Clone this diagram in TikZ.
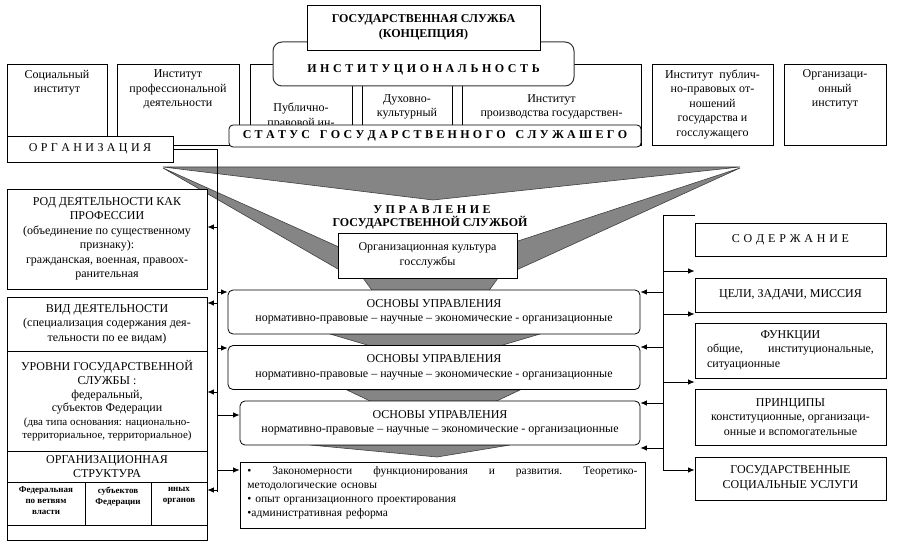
\documentclass[tikz,border=0pt]{standalone}
\usepackage{fontspec}
\setmainfont{Liberation Serif}
\usetikzlibrary{arrows.meta, positioning}
\definecolor{fgrey}{HTML}{858585}
\definecolor{fedge}{HTML}{404040}
\newcommand{\bodysize}{\fontsize{12}{14.5}\selectfont}
\newcommand{\notesize}{\fontsize{11}{13}\selectfont}
\tikzset{
  every picture/.style={line width=0.8pt},
  box/.style={draw, fill=white, inner sep=2pt, align=center, font=\bodysize},
  rbox/.style={box, rounded corners=5pt},
  txt/.style={inner sep=1pt, align=center, font=\bodysize},
  head/.style={font=\bodysize\bfseries},
  spread/.style={execute at begin node={\spaceskip=#1\relax}},
  arrow/.style={-{Latex[length=6.5pt, width=5.5pt]}, line width=0.8pt},
  funnel/.style={fill=fgrey, draw=fedge, line width=0.6pt},
}

\begin{document}
\begin{tikzpicture}[x=1pt, y=-1pt,
  cell/.style={draw, inner sep=0pt},
  tiny/.style={inner sep=1pt, align=center, font=\fontsize{9}{11}\selectfont\bfseries}]
  \useasboundingbox (0,0) rectangle (911,548);

  % institutes row
  \node[box, minimum width=100, minimum height=72] (soc) at (57,100) {};
  \node[txt, below=5pt of soc.north] (soct) {Социальный\\институт};
  \node[box, minimum width=122, minimum height=81] (prof) at (178,104.5) {};
  \node[txt, below=5pt of prof.north] (proft) {Институт\\профессиональной\\деятельности};
  \node[box, minimum width=391, minimum height=81] (pub) at (445.5,104.5) {};
  \foreach \x in {352,362,452,462} \draw (\x,86) -- (\x,126);
  \node[txt] (pubt) at (301,116) {Публично-\\правовой ин-};
  \node[txt] (duh) at (407,107) {Духовно-\\культурный};
  \node[txt] (proiz) at (551.5,107) {Институт\\производства государствен-};
  \node[rbox, draw=black!80, line width=1pt, rounded corners=9pt, minimum width=301, minimum height=44] (inst) at (423.5,64) {};
  \node[txt, head, spread=3.6pt] (instt) at (423.5,70) {И Н С Т И Т У Ц И О Н А Л Ь Н О С Т Ь};
  \node[box, head, minimum width=233, minimum height=45] (gs) at (423.5,27.5) {ГОСУДАРСТВЕННАЯ СЛУЖБА\\(КОНЦЕПЦИЯ)};
  \node[rbox, head, spread=3.3pt, rounded corners=4pt, minimum width=412, minimum height=22] (stat) at (435,136)
    {С Т А Т У С \ \ Г О С У Д А Р С Т В Е Н Н О Г О \ \ С Л У Ж А Ш Е Г О};
  \node[box, spread=3.4pt, minimum width=166, minimum height=26] (org) at (90,149) {О Р Г А Н И З А Ц И Я};
  \node[box, minimum width=121, minimum height=81] (prel) at (712.5,104.5)
    {Институт\ \ публич-\\но-правовых от-\\ношений\\государства и\\госслужащего};
  \node[box, minimum width=102, minimum height=81] (oins) at (835,104.5) {};
  \node[txt, below=5pt of oins.north] (oinst) {Организаци-\\онный\\институт};

  % funnel
  \draw[funnel] (163,167) -- (740,167) -- (433,200) -- cycle;
  \draw[funnel] (163,168) -- (350,252) -- (350,276) -- cycle;
  \draw[funnel] (740,168) -- (512,243) -- (512,272) -- cycle;
  \draw[funnel] (360,274) -- (501,274) -- (431,370) -- cycle;
  \draw[funnel] (330,334) -- (540,334) -- (435,365) -- cycle;
  \draw[funnel] (347,390) -- (520,390) -- (433,431) -- cycle;
  \draw[funnel] (310,445) -- (510,445) -- (437,457) -- cycle;

  \node[txt, head, spread=3.5pt] (upr) at (432,210) {У П Р А В Л Е Н И Е};
  \node[txt, head] (gsl) at (430,223) {ГОСУДАРСТВЕННОЙ СЛУЖБОЙ};
  \node[box, minimum width=179, minimum height=45] (cult) at (427.5,255.5) {Организационная культура\\госслужбы};

  \foreach \n/\x/\y/\w in {osn1/434/312/412, osn2/434/367.5/412, osn3/440/423/400}
    \node[rbox, minimum width=\w, minimum height=44] (\n) at (\x,\y)
      {ОСНОВЫ УПРАВЛЕНИЯ\\нормативно-правовые – научные – экономические - организационные};

  \node[box, minimum width=405, minimum height=66] (bul) at (442.5,495) {};
  \node[txt, align=left, text width=390, font=\fontsize{11.5}{14}\selectfont, anchor=north west] (bult) at (246,465)
    {•\hfill Закономерности\hfill функционирования\hfill и\hfill развития.\hfill Теоретико-\\методологические основы\\• опыт организационного проектирования\\•административная реформа};

  % left column
  \node[box, minimum width=200, minimum height=100] (rod) at (107,239)
    {РОД ДЕЯТЕЛЬНОСТИ КАК\\ПРОФЕССИИ\\(объединение по существенному\\признаку):\\гражданская, военная, правоох-\\ранительная};
  \node[box, minimum width=200, minimum height=54] (vid) at (107,324)
    {ВИД ДЕЯТЕЛЬНОСТИ\\(специализация содержания дея-\\тельности по ее видам)};
  \node[box, minimum width=200, minimum height=100, font=\fontsize{12}{13.6}\selectfont] (urov) at (107,401)
    {УРОВНИ ГОСУДАРСТВЕННОЙ\\СЛУЖБЫ :\\федеральный,\\субъектов Федерации\\\notesize(два типа основания: национально-\\\notesize территориальное, территориальное)};
  \node[box, minimum width=200, minimum height=89] (ostr) at (107,495.5) {};
  \node[txt] (ostrt) at (107,466.5) {ОРГАНИЗАЦИОННАЯ\\СТРУКТУРА};
  \node[cell, minimum width=78, minimum height=43] (c1) at (46,503.5) {};
  \node[cell, minimum width=66, minimum height=43] (c2) at (118,503.5) {};
  \node[cell, minimum width=56, minimum height=43] (c3) at (179,503.5) {};
  \node[tiny, below=4pt of c1.north] (c1t) {Федеральная\\по ветвям\\власти};
  \node[tiny, below=4pt of c2.north] (c2t) {субъектов\\Федерации};
  \node[tiny, below=4pt of c3.north] (c3t) {иных\\органов};

  % right column
  \node[box, spread=3.8pt, minimum width=191, minimum height=33] (sod) at (790.5,239.5) {С О Д Е Р Ж А Н И Е};
  \node[box, minimum width=191, minimum height=34] (cel) at (790.5,295) {ЦЕЛИ, ЗАДАЧИ, МИССИЯ};
  \node[box, minimum width=191, minimum height=55] (fun) at (790.5,350.5) {};
  \node[txt, text width=167, align=left] (funt) at (790.5,350)
    {\makebox[167pt]{ФУНКЦИИ}\\общие,\hfill институциональные,\\ситуационные};
  \node[box, minimum width=191, minimum height=56] (prin) at (790.5,417)
    {ПРИНЦИПЫ\\конституционные, организаци-\\онные и вспомогательные};
  \node[box, minimum width=191, minimum height=43] (gsu) at (790.5,478.5) {ГОСУДАРСТВЕННЫЕ\\СОЦИАЛЬНЫЕ УСЛУГИ};

  % left bus
  \coordinate (lb) at (217,149);
  \coordinate (lbe) at (217,492);
  \draw (org.east) -- (lb) -- (lbe);
  \foreach \y/\n in {227/rod, 303/vid, 392/urov, 490/ostr}
    \draw[arrow] (lb |- 0,\y) -- (\n.east |- 0,\y);
  \foreach \y/\n in {292/osn1, 348/osn2, 415/osn3, 470/bul}
    \draw[arrow] (lb |- 0,\y) -- (\n.west |- 0,\y);

  % right bus
  \coordinate (rb) at (663,215);
  \coordinate (rbe) at (663,470);
  \draw (sod.west |- rb) -- (rb) -- (rbe);
  \foreach \y in {271, 314, 382, 470}
    \draw[arrow] (rb |- 0,\y) -- (sod.west |- 0,\y);
  \foreach \y/\n in {292/osn1, 347/osn2, 403/osn3, 448/osn3}
    \draw[arrow] (rb |- 0,\y) -- (\n.east |- 0,\y);
\end{tikzpicture}
\end{document}
